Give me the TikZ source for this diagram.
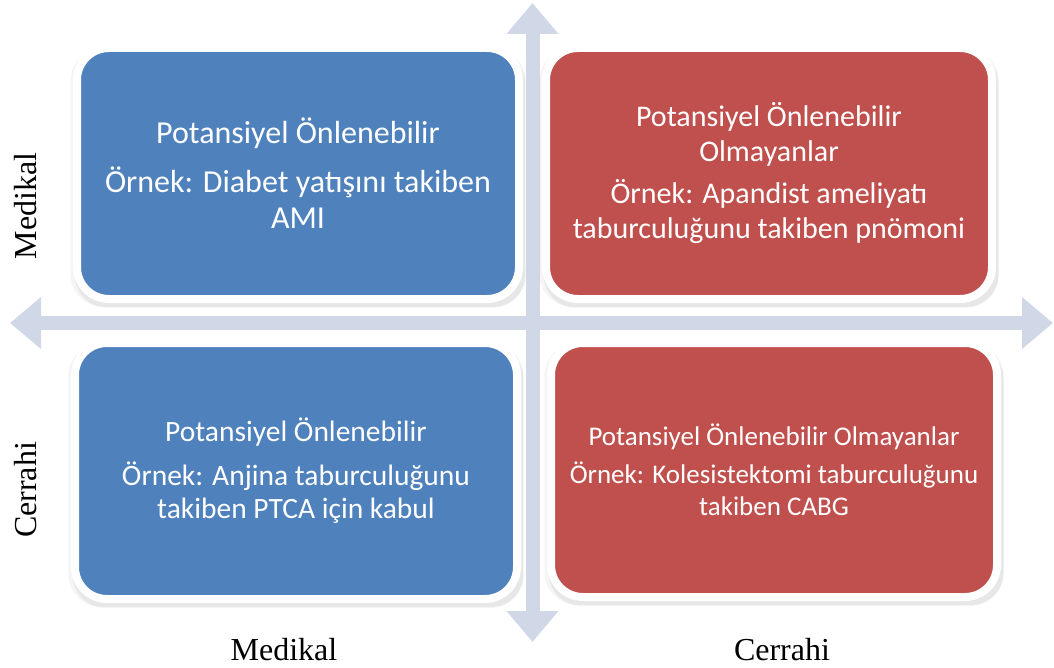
\documentclass[tikz,border=0pt]{standalone}
\usepackage{fontspec}
\setmainfont{Carlito}
\newfontfamily\axisfont{Liberation Serif}
\usetikzlibrary{arrows.meta, shadows}
\definecolor{quadblue}{RGB}{79,129,189}
\definecolor{quadred}{RGB}{192,80,77}
\definecolor{axisgray}{RGB}{208,216,232}

\begin{document}
\begin{tikzpicture}[
  x=1pt, y=-1pt,
  quad/.style = {
    rectangle, rounded corners=32pt, draw=white, line width=8pt,
    text=white, align=center, inner sep=0pt,
    drop shadow={shadow xshift=0pt, shadow yshift=-4pt, shadow scale=1.03, opacity=0.08},
    drop shadow={shadow xshift=2pt, shadow yshift=-6pt, shadow scale=1.02, opacity=0.12}
  },
  axisarr/.style = {
    draw=axisgray, line width=14pt,
    {Triangle[length=31pt,width=50pt]}-{Triangle[length=31pt,width=50pt]}
  },
  lbl/.style = {font=\axisfont\fontsize{32}{36}\selectfont, inner sep=0pt}
]
\useasboundingbox (0,0) rectangle (1054,668);

% axes
\coordinate (west)  at (10,323);
\coordinate (east)  at (1053,323);
\coordinate (north) at (532.5,3);
\coordinate (south) at (532.5,642);
\draw[axisarr] (west) -- (east);
\draw[axisarr] (north) -- (south);

% quadrants
\node[quad, fill=quadblue, minimum width=442pt, minimum height=251pt,
      font=\fontsize{32}{36}\selectfont] (medmed) at (298,173.5)
  {Potansiyel Önlenebilir\\[13pt]Örnek: Diabet yatışını takiben\\AMI};
\node[quad, fill=quadred, minimum width=446pt, minimum height=251pt,
      font=\fontsize{30}{35}\selectfont] (medcer) at (769,173.5)
  {Potansiyel Önlenebilir\\Olmayanlar\\[7pt]Örnek: Apandist ameliyatı\\taburculuğunu takiben pnömoni};
\node[quad, fill=quadblue, minimum width=442pt, minimum height=256pt,
      font=\fontsize{29.5}{33}\selectfont] (cermed) at (296,471)
  {Potansiyel Önlenebilir\\[11pt]Örnek: Anjina taburculuğunu\\takiben PTCA için kabul};
\node[quad, fill=quadred, minimum width=446pt, minimum height=254pt,
      font=\fontsize{27}{32}\selectfont] (cercer) at (774,470)
  {Potansiyel Önlenebilir Olmayanlar\\[6pt]Örnek: Kolesistektomi taburculuğunu\\takiben CABG};

% axis labels
\node[lbl, rotate=90] (rowmed) at (26,206) {Medikal};
\node[lbl, rotate=90] (rowcer) at (26,490) {Cerrahi};
\node[lbl] (colmed) at (284,650) {Medikal};
\node[lbl] (colcer) at (782,650) {Cerrahi};
\end{tikzpicture}
\end{document}
